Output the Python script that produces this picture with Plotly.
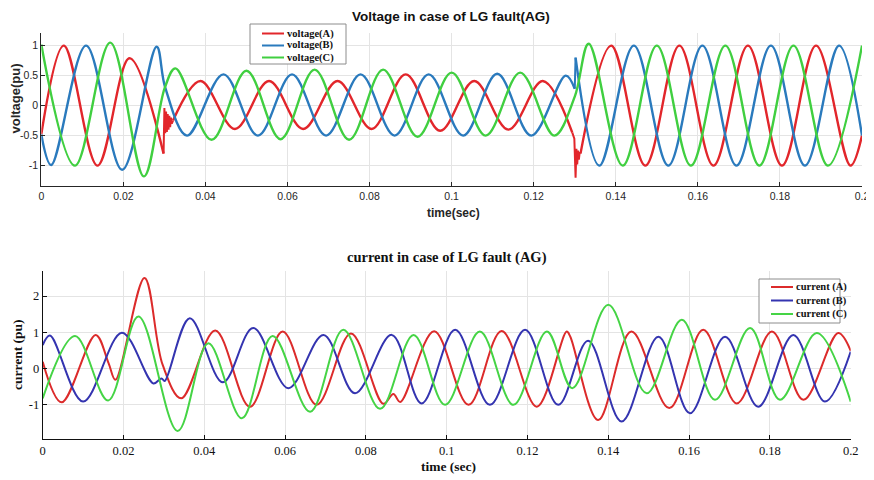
import plotly.graph_objects as go

# the page is photographed at 874x480, but the browser body keeps an 8 px margin,
# so the figure is made 8 px smaller and all layout positions are given in page pixels
PAGE_W, PAGE_H, OFF = 874, 480, 8
W, H = PAGE_W - OFF, PAGE_H - OFF

# ---------------- voltage (pu) ----------------
# extrema of each phase; None splits the curve at the fault switching instants
va_t = [0, 0.0055, 0.0137, 0.0215, 0.0298, None,
        0.0321, 0.0388, 0.0472, 0.0555, 0.0638, 0.0722, 0.0805, 0.0888, 0.0972, 0.1055, 0.1138, 0.1222, 0.1294, None,
        0.1314, 0.1389, 0.1472, 0.1555, 0.1638, 0.1722, 0.1805, 0.1888, 0.1972, 0.2]
va_v = [-0.48, 1.0, -1.0, 0.79, -0.80, None,
        -0.25, 0.41, -0.39, 0.41, -0.39, 0.41, -0.39, 0.52, -0.42, 0.41, -0.40, 0.41, -0.45, None,
        -0.80, 1.0, -1.0, 1.0, -1.0, 1.0, -1.0, 1.0, -1.0, -0.5]
vb_t = [0, 0.0024, 0.0109, 0.0197, 0.0281, 0.0302, 0.0355, 0.0444, 0.0528, 0.0611, 0.0694, 0.0778, 0.0861,
        0.0944, 0.1028, 0.1111, 0.1194, 0.1278, 0.1300, None,
        0.1302, 0.1360, 0.1444, 0.1528, 0.1611, 0.1694, 0.1778, 0.1861, 0.1944, 0.2]
vb_v = [-0.48, -0.99, 1.0, -1.07, 0.98, 0.30, -0.50, 0.52, -0.50, 0.52, -0.50, 0.52, -0.50,
        0.52, -0.50, 0.53, -0.50, 0.50, 0.28, None,
        0.80, -1.0, 1.0, -1.0, 1.0, -1.0, 1.0, -1.0, 1.0, -0.5]
vc_t = [0, 0.0082, 0.0168, 0.0250, 0.0301, 0.0327, 0.0415, 0.0500, 0.0583, 0.0666, 0.0750, 0.0833, 0.0917,
        0.1000, 0.1083, 0.1167, 0.1250, 0.1300, 0.1334, 0.1417, 0.1500, 0.1583, 0.1667, 0.1750, 0.1833,
        0.1917, 0.2]
vc_v = [1.02, -1.0, 1.05, -1.18, 0.30, 0.62, -0.57, 0.58, -0.56, 0.60, -0.57, 0.60, -0.52,
        0.55, -0.50, 0.55, -0.50, 0.15, 1.03, -1.0, 1.0, -1.0, 1.0, -1.0, 1.0,
        -1.0, 1.0]

# switching transients (ringing / spikes), drawn straight
va_tr_t = [0.0298, 0.0300, 0.0302, 0.0304, 0.0306, 0.0308, 0.0310, 0.0312, 0.0314, 0.0316, 0.0318, 0.0321, None,
           0.1294, 0.1299, 0.1302, 0.1304, 0.1306, 0.1308, 0.1310, 0.1312, 0.1314]
va_tr_v = [-0.80, -0.04, -0.46, -0.10, -0.44, -0.14, -0.40, -0.17, -0.36, -0.20, -0.30, -0.25, None,
           -0.45, -0.55, -1.20, -0.72, -0.98, -0.75, -0.90, -0.78, -0.80]
vb_tr_t = [0.1300, 0.1302]
vb_tr_v = [0.28, 0.80]

# ---------------- current (pu) ----------------
ia_t = [0, 0.0047, 0.0131, 0.0163, 0.0180, 0.0252, 0.0297, 0.0343, 0.0427, 0.0513, 0.0594, 0.0678, 0.0763,
        0.0843, 0.0868, 0.0885, 0.0969, 0.1054, 0.1136, 0.1223, 0.1297, 0.1306, 0.1375, 0.1457, 0.1551,
        0.1635, 0.1718, 0.1805, 0.1883, 0.1969, 0.2]
ia_v = [0.19, -0.93, 0.93, 0.15, -0.31, 2.50, 0.10, -0.82, 1.05, -1.05, 1.02, -1.0, 0.97,
        -0.97, -0.70, -0.92, 1.03, -1.0, 1.04, -1.05, 1.02, 0.88, -1.42, 1.02, -1.09,
        1.07, -0.96, 1.02, -0.86, 0.98, 0.49]
ib_t = [0, 0.0018, 0.0100, 0.0196, 0.0274, 0.0294, 0.0302, 0.0364, 0.0446, 0.0521, 0.0608, 0.0695, 0.0773,
        0.0864, 0.0938, 0.1021, 0.1107, 0.1194, 0.1276, 0.1350, 0.1433, 0.1524, 0.1602, 0.1689, 0.1771,
        0.1858, 0.1936, 0.2]
ib_v = [0.65, 0.91, -0.91, 0.99, -0.41, -0.27, -0.34, 1.39, -0.38, 1.12, -0.54, 0.93, -0.68,
        0.93, -0.96, 1.07, -1.0, 1.07, -1.0, 0.77, -1.46, 0.88, -1.23, 0.88, -1.05,
        0.93, -0.91, 0.47]
ic_t = [0, 0.0080, 0.0162, 0.0237, 0.0334, 0.0410, 0.0493, 0.0569, 0.0662, 0.0744, 0.0835, 0.0918, 0.0996,
        0.1082, 0.1165, 0.1248, 0.1311, 0.1400, 0.1495, 0.1582, 0.1664, 0.1751, 0.1825, 0.1916, 0.2]
ic_v = [-0.82, 0.90, -0.88, 1.44, -1.72, 0.70, -1.37, 0.90, -1.19, 1.07, -1.11, 0.93, -1.0,
        1.02, -1.0, 1.02, -0.54, 1.76, -0.68, 1.35, -0.86, 1.12, -0.86, 0.98, -0.91]

x_ticks = [0, 0.02, 0.04, 0.06, 0.08, 0.1, 0.12, 0.14, 0.16, 0.18, 0.2]
x_labels = ["0", "0.02", "0.04", "0.06", "0.08", "0.1", "0.12", "0.14", "0.16", "0.18", "0.2"]
v_ticks = [-1, -0.5, 0, 0.5, 1]
v_labels = ["-1", "-0.5", "0", "0.5", "1"]
i_ticks = [-1, 0, 1, 2]
i_labels = ["-1", "0", "1", "2"]

v_names = ["voltage(A)", "voltage(B)", "voltage(C)"]
i_names = ["current (A)", "current (B)", "current (C)"]
V_COLORS = ["#e2262b", "#2a7abd", "#40cf40"]
I_COLORS = ["#dc2b2b", "#3434b0", "#45d445"]

SANS = "Liberation Sans, Arial, sans-serif"
SERIF = "Liberation Serif, Times New Roman, serif"


def px(x):
    return (x - OFF) / W


def py(y):
    return 1 - (y - OFF) / H


def _curve(t, v, color, xa, ya, shape="spline", width=2):
    return go.Scatter(x=t, y=v, mode="lines", xaxis=xa, yaxis=ya, showlegend=False, hoverinfo="skip",
                      connectgaps=False, line=dict(color=color, width=width, shape=shape, smoothing=1))


fig = go.Figure()
# the scope voltages are noisy, so their traces read a bit thicker
for t, v, c in [(va_t, va_v, V_COLORS[0]), (vb_t, vb_v, V_COLORS[1]), (vc_t, vc_v, V_COLORS[2])]:
    fig.add_trace(_curve(t, v, c, "x", "y", width=2.4))
fig.add_trace(_curve(va_tr_t, va_tr_v, V_COLORS[0], "x", "y", "linear"))
fig.add_trace(_curve(vb_tr_t, vb_tr_v, V_COLORS[1], "x", "y", "linear"))
for t, v, c in [(ia_t, ia_v, I_COLORS[0]), (ib_t, ib_v, I_COLORS[1]), (ic_t, ic_v, I_COLORS[2])]:
    fig.add_trace(_curve(t, v, c, "x2", "y2"))


def _axis(domain, rng, ticks, labels, anchor, font, size, color):
    return dict(domain=domain, range=rng, anchor=anchor, tickvals=ticks, ticktext=labels, automargin=False,
                showgrid=True, gridcolor="#e4e4e4", gridwidth=1, zeroline=False, tickangle=0,
                showline=True, linecolor=color, linewidth=1, ticks="inside", ticklen=4, tickcolor=color,
                tickfont=dict(family=font, size=size, color=color))


shapes, annotations = [], []


def _legend(box, rows, names, colors, font, size):
    x0, y0, x1, y1 = box
    shapes.append(dict(type="rect", xref="paper", yref="paper", x0=px(x0), y0=py(y1), x1=px(x1), y1=py(y0),
                       line=dict(color="#8c8c8c", width=1), fillcolor="white", layer="above"))
    lx0, lx1 = x0 + 12, x0 + 34
    for yy, name, c in zip(rows, names, colors):
        shapes.append(dict(type="line", xref="paper", yref="paper", x0=px(lx0), x1=px(lx1), y0=py(yy), y1=py(yy),
                           line=dict(color=c, width=2), layer="above"))
        annotations.append(dict(text=f"<b>{name}</b>", xref="paper", yref="paper", x=px(lx1 + 1), y=py(yy),
                                xanchor="left", yanchor="middle", showarrow=False,
                                font=dict(family=font, size=size, color="#111111")))


def _text(s, x, y, font, size, color, angle=0):
    annotations.append(dict(text=f"<b>{s}</b>", xref="paper", yref="paper", x=px(x), y=py(y), showarrow=False,
                            xanchor="center", yanchor="middle", textangle=angle,
                            font=dict(family=font, size=size, color=color)))


_legend((250, 24, 346, 64), [33.5, 45.5, 57.5], v_names, V_COLORS, SERIF, 10.5)
_legend((759, 279, 840, 323), [287, 300.5, 314], i_names, I_COLORS, SERIF, 10.5)

# top title and y label sit right against the page edge, nudged in so nothing is clipped
_text("Voltage in case of LG fault(AG)", 451, 17, SANS, 13.5, "#111111")
_text("time(sec)", 453, 213, SANS, 12, "#262626")
_text("voltage(pu)", 14.5, 99, SANS, 13, "#262626", -90)
_text("current in case of LG fault (AG)", 447, 257, SERIF, 14.5, "#111111")
_text("time (sec)", 448, 466, SERIF, 13.5, "#111111")
_text("current (pu)", 17, 355, SERIF, 13.5, "#111111", -90)

fig.update_layout(
    width=W, height=H,
    margin=dict(l=0, r=0, t=0, b=0),
    paper_bgcolor="white", plot_bgcolor="white",
    xaxis=_axis([px(41.3), px(862)], [0, 0.2], x_ticks, x_labels, "y", SANS, 10.5, "#262626"),
    yaxis=_axis([py(186), py(33)], [-1.34, 1.21], v_ticks, v_labels, "x", SANS, 10.5, "#262626"),
    xaxis2=_axis([px(42.7), px(850.7)], [0, 0.2], x_ticks, x_labels, "y2", SERIF, 12.5, "#111111"),
    yaxis2=_axis([py(439.3), py(270.7)], [-1.95, 2.7], i_ticks, i_labels, "x2", SERIF, 12.5, "#111111"),
    shapes=shapes, annotations=annotations,
    showlegend=False,
)

fig.write_html("out.html")
